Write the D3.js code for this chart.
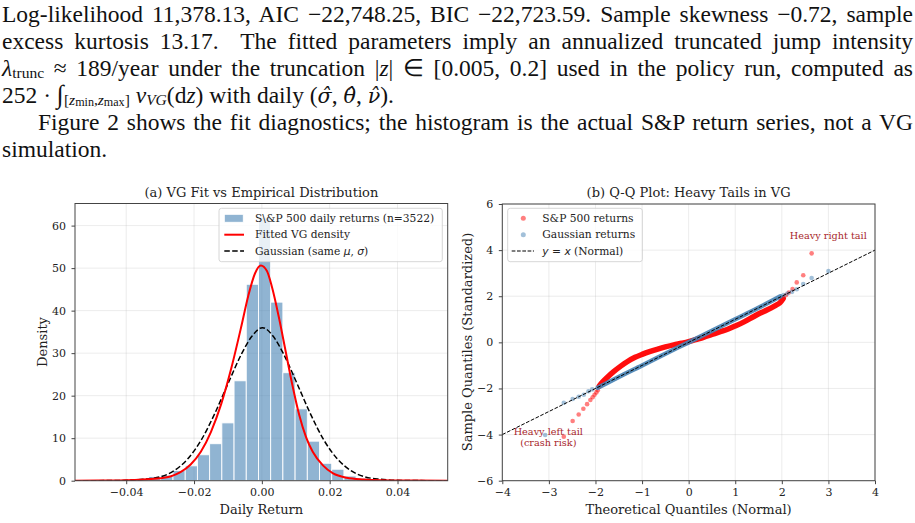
<!DOCTYPE html>
<html>
<head>
<meta charset="utf-8">
<script src="https://cdn.jsdelivr.net/npm/d3@7"></script>
<style>
  html, body { margin: 0; padding: 0; background: #fff; }
  body { width: 915px; height: 523px; position: relative; overflow: hidden; }
  .para {
    position: absolute; left: 2px; top: 1px; width: 911px;
    font-family: "Liberation Serif", serif; font-size: 23.5px; line-height: 27px; color: #111;
  }
  .para .ln { white-space: nowrap; height: 27px; }
  .para sub { font-size: 0.66em; line-height: 0; vertical-align: -0.15em; }
  .para sub sub { font-size: 0.78em; vertical-align: -0.05em; }
  .para .int { font-size: 1.1em; line-height: 0; }
  .para .hm { font-family: "DejaVu Serif", serif; font-style: italic; font-size: 0.88em; }
  #fig { position: absolute; left: 0; top: 0; }
  svg text { font-family: "DejaVu Serif", serif; fill: #222; }
  .math { font-family: "DejaVu Sans", sans-serif; font-style: italic; }
</style>
</head>
<body>
<div class="para" id="para"></div>
<div id="fig"></div>
<script>
// =====================
// Data
// =====================
const histEdges = [-0.0442, -0.0406, -0.0370, -0.0334, -0.0298, -0.0262, -0.0226, -0.0190,
  -0.0154, -0.0118, -0.0082, -0.0046, -0.0010, 0.0026, 0.0062, 0.0098, 0.0134, 0.0170,
  0.0206, 0.0242, 0.0278, 0.0314, 0.0350, 0.0386];
const histDensity = [0.15, 0.3, 0.55, 1.0, 1.3, 2.4, 3.5, 6.1, 8.7, 13.6, 23.5, 46.2, 62.0,
  42.0, 25.4, 16.9, 9.3, 4.1, 2.7, 1.1, 0.6, 0.3, 0.15];

// fitted VG density, traced
const vgX = [-0.0551, -0.045, -0.040, -0.035, -0.030, -0.027, -0.024, -0.021, -0.018, -0.015,
  -0.012, -0.009, -0.006, -0.004, -0.002, -0.0003, 0.0015, 0.003, 0.005, 0.007, 0.009, 0.011,
  0.013, 0.015, 0.018, 0.021, 0.025, 0.030, 0.035, 0.045, 0.0548];
const vgY = [0.01, 0.05, 0.12, 0.3, 0.6, 1.0, 2.0, 3.8, 6.8, 11.5, 18.0, 26.5, 36.5, 43.5, 48.8,
  50.6, 49.3, 45.5, 38.5, 30.5, 22.5, 15.5, 10.3, 6.8, 3.6, 1.7, 0.7, 0.3, 0.12, 0.04, 0.01];

// Gaussian with the same mean and sd, traced
const gaussX = [-0.0551, -0.045, -0.040, -0.035, -0.030, -0.026, -0.022, -0.018, -0.014, -0.010,
  -0.006, -0.003, 0.0002, 0.0034, 0.0064, 0.0104, 0.0144, 0.0184, 0.0224, 0.0264, 0.0304, 0.035,
  0.040, 0.045, 0.0548];
const gaussY = [0.0, 0.03, 0.1, 0.35, 0.9, 2.3, 5.0, 9.4, 15.6, 22.8, 29.8, 33.9, 36.0, 33.9, 29.8,
  22.8, 15.6, 9.4, 5.0, 2.3, 0.9, 0.35, 0.1, 0.03, 0.0];

// Q-Q: dense part of each cloud (traced) and the separate tail points
const spxBand = [[-1.92, -1.90], [-1.85, -1.72], [-1.75, -1.52], [-1.61, -1.27], [-1.45, -1.02],
  [-1.32, -0.84], [-1.15, -0.65], [-1.0, -0.52], [-0.84, -0.40], [-0.68, -0.30], [-0.5, -0.20],
  [-0.32, -0.11], [-0.15, -0.04], [0, 0.03], [0.15, 0.12], [0.32, 0.22], [0.5, 0.34],
  [0.68, 0.46], [0.85, 0.58], [1.0, 0.71], [1.2, 0.90], [1.39, 1.11], [1.55, 1.28],
  [1.68, 1.40], [1.85, 1.58], [1.96, 1.72], [2.03, 1.90]];
const spxTail = [[-2.68, -4.09], [-2.49, -3.41], [-2.36, -3.13], [-2.26, -2.88], [-2.18, -2.68],
  [-2.11, -2.50], [-2.06, -2.38], [-2.02, -2.27], [-1.98, -2.17], [-1.95, -2.08],
  [2.09, 2.05], [2.15, 2.16], [2.23, 2.31], [2.32, 2.60], [2.46, 2.91], [2.64, 3.86]];
const gaussBand = [[-1.95, -1.97], [-1.5, -1.5], [-1.0, -1.0], [-0.5, -0.49], [0, 0],
  [0.5, 0.5], [1.0, 1.0], [1.5, 1.5], [1.97, 2.0]];
const gaussTail = [[-3.08, -4.02], [-2.68, -2.62], [-2.49, -2.46], [-2.36, -2.36], [-2.25, -2.27],
  [-2.15, -2.12], [-2.07, -2.04], [2.04, 2.05], [2.12, 2.12], [2.22, 2.19], [2.32, 2.30],
  [2.46, 2.53], [2.64, 2.79], [3.00, 3.09]];
const refLineX = [-4, 4];

const histTicks = [-0.04, -0.02, 0.00, 0.02, 0.04];
const densityTicks = [0, 10, 20, 30, 40, 50, 60];
const qqXTicks = [-4, -3, -2, -1, 0, 1, 2, 3, 4];
const qqYTicks = [-6, -4, -2, 0, 2, 4, 6];

// =====================
// Paragraph above the figure
// =====================
const paraLines = [
  { html: "Log-likelihood 11,378.13, AIC \u221222,748.25, BIC \u221222,723.59. Sample skewness \u22120.72, sample", justify: true },
  { html: "excess kurtosis 13.17.&nbsp; The fitted parameters imply an annualized truncated jump intensity", justify: true },
  { html: "<i>\u03bb</i><sub>trunc</sub> \u2248 189/year under the truncation |<i>z</i>| \u2208 [0.005, 0.2] used in the policy run, computed as", justify: true },
  { html: "252 \u00b7 <span class='int'>\u222b</span><sub>[<i>z</i><sub>min</sub>,<i>z</i><sub>max</sub>]</sub> <i>\u03bd</i><sub><i>VG</i></sub>(d<i>z</i>) with daily (<span class='hm'>\u03c3\u0302</span>, <span class='hm'>\u03b8\u0302</span>, <span class='hm'>\u03bd\u0302</span>).", justify: false },
  { html: "Figure 2 shows the fit diagnostics; the histogram is the actual S&amp;P return series, not a VG", justify: true, indent: 36 },
  { html: "simulation.", justify: false }
];

const para = d3.select("#para");
paraLines.forEach(l => {
  const div = para.append("div").attr("class", "ln").style("padding-left", (l.indent || 0) + "px");
  const span = div.append("span").html(l.html);
  if (l.justify) {
    const target = 911 - (l.indent || 0);
    const w = span.node().getBoundingClientRect().width;
    const spaces = (span.node().textContent.match(/[ \u00a0]/g) || []).length;
    span.style("word-spacing", ((target - w) / spaces) + "px");
  }
});

// =====================
// Figure
// =====================
const svg = d3.select("#fig").append("svg").attr("width", 915).attr("height", 523);
const fmt2 = d3.format(".2f");
const fmt0 = d3.format("d");

function panel(x, y, o) {
  const g = svg.append("g");
  // grid
  g.append("g").selectAll("line").data(o.xTicks).join("line")
    .attr("x1", d => x(d)).attr("x2", d => x(d))
    .attr("y1", y.range()[0]).attr("y2", y.range()[1])
    .attr("stroke", "#b0b0b0").attr("stroke-opacity", 0.3).attr("stroke-width", 0.8);
  g.append("g").selectAll("line").data(o.yTicks).join("line")
    .attr("y1", d => y(d)).attr("y2", d => y(d))
    .attr("x1", x.range()[0]).attr("x2", x.range()[1])
    .attr("stroke", "#b0b0b0").attr("stroke-opacity", 0.3).attr("stroke-width", 0.8);
  return g;
}

function frame(x, y, o) {
  const [x0, x1] = x.range(), [y0, y1] = y.range();
  svg.append("rect").attr("x", x0).attr("y", y1).attr("width", x1 - x0).attr("height", y0 - y1)
    .attr("fill", "none").attr("stroke", "#444").attr("stroke-width", 1);
  const ax = svg.append("g").attr("transform", `translate(0,${y0})`)
    .call(d3.axisBottom(x).tickValues(o.xTicks).tickFormat(o.xFmt).tickSize(3.5).tickPadding(4.5).tickSizeOuter(0));
  const ay = svg.append("g").attr("transform", `translate(${x0},0)`)
    .call(d3.axisLeft(y).tickValues(o.yTicks).tickFormat(o.yFmt).tickSize(3.5).tickPadding(5.5).tickSizeOuter(0));
  [ax, ay].forEach(a => {
    a.select(".domain").remove();
    a.selectAll(".tick line").attr("stroke", "#444");
    a.selectAll(".tick text").attr("font-family", "DejaVu Serif").attr("font-size", 11).attr("fill", "#222");
  });
}

// ----- (a) histogram with fitted densities -----
const xA = d3.scaleLinear().domain([-0.0551, 0.0548]).range([75, 447.7]);
const yA = d3.scaleLinear().domain([0, 65.2]).range([480.7, 203.5]);
const gA = panel(xA, yA, { xTicks: histTicks, yTicks: densityTicks });

svg.append("clipPath").attr("id", "clipA").append("rect")
  .attr("x", 75).attr("y", 203.5).attr("width", 372.7).attr("height", 277.2);

gA.append("g").selectAll("rect").data(histDensity).join("rect")
  .attr("x", (d, i) => xA(histEdges[i]))
  .attr("width", (d, i) => xA(histEdges[i + 1]) - xA(histEdges[i]))
  .attr("y", d => yA(d))
  .attr("height", d => yA(0) - yA(d))
  .attr("fill", "steelblue").attr("fill-opacity", 0.6)
  .attr("stroke", "#fff").attr("stroke-width", 0.9);

const lineA = d3.line().x(d => xA(d[0])).y(d => yA(d[1])).curve(d3.curveMonotoneX);
gA.append("path").datum(d3.zip(gaussX, gaussY)).attr("d", lineA)
  .attr("clip-path", "url(#clipA)")
  .attr("fill", "none").attr("stroke", "#000").attr("stroke-width", 1.5).attr("stroke-dasharray", "5.5,2.4");
gA.append("path").datum(d3.zip(vgX, vgY)).attr("d", lineA)
  .attr("clip-path", "url(#clipA)")
  .attr("fill", "none").attr("stroke", "red").attr("stroke-width", 2);

frame(xA, yA, { xTicks: histTicks, yTicks: densityTicks, xFmt: fmt2, yFmt: fmt0 });

svg.append("text").attr("x", 261.4).attr("y", 196.5).attr("text-anchor", "middle")
  .attr("font-size", 13).text("(a) VG Fit vs Empirical Distribution");
svg.append("text").attr("x", 261.4).attr("y", 514).attr("text-anchor", "middle")
  .attr("font-size", 13).text("Daily Return");
svg.append("text").attr("transform", "translate(47,342) rotate(-90)").attr("text-anchor", "middle")
  .attr("font-size", 13).text("Density");

// legend (a)
const legA = svg.append("g");
legA.append("rect").attr("x", 219).attr("y", 208.3).attr("width", 223.3).attr("height", 53.4).attr("rx", 2.5)
  .attr("fill", "#fff").attr("fill-opacity", 0.8).attr("stroke", "#ccc").attr("stroke-width", 0.8);
legA.append("rect").attr("x", 224.3).attr("y", 214.3).attr("width", 19).attr("height", 8)
  .attr("fill", "steelblue").attr("fill-opacity", 0.6).attr("stroke", "#fff").attr("stroke-width", 0.9);
legA.append("line").attr("x1", 224.3).attr("x2", 244).attr("y1", 234.7).attr("y2", 234.7)
  .attr("stroke", "red").attr("stroke-width", 2);
legA.append("line").attr("x1", 224.3).attr("x2", 244).attr("y1", 251).attr("y2", 251)
  .attr("stroke", "#000").attr("stroke-width", 1.5).attr("stroke-dasharray", "5.5,2.4");
legA.append("text").attr("x", 255).attr("y", 222).attr("font-size", 10.7).text("S\\&P 500 daily returns (n=3522)");
legA.append("text").attr("x", 255).attr("y", 238.4).attr("font-size", 10.7).text("Fitted VG density");
const tG = legA.append("text").attr("x", 255).attr("y", 254.7).attr("font-size", 10.7);
tG.append("tspan").text("Gaussian (same ");
tG.append("tspan").attr("class", "math").text("\u03bc");
tG.append("tspan").text(", ");
tG.append("tspan").attr("class", "math").text("\u03c3");
tG.append("tspan").text(")");

// ----- (b) Q-Q plot -----
const xB = d3.scaleLinear().domain([-4, 4]).range([502.3, 875]);
const yB = d3.scaleLinear().domain([-6, 6]).range([480.7, 204]);
const gB = panel(xB, yB, { xTicks: qqXTicks, yTicks: qqYTicks });
const lineB = d3.line().x(d => xB(d[0])).y(d => yB(d[1])).curve(d3.curveCatmullRom);

// S&P 500 returns
gB.append("g").selectAll("circle").data(spxTail).join("circle")
  .attr("cx", d => xB(d[0])).attr("cy", d => yB(d[1])).attr("r", 2.3)
  .attr("fill", "red").attr("fill-opacity", 0.5);
gB.append("path").datum(spxBand).attr("d", lineB)
  .attr("fill", "none").attr("stroke", "red").attr("stroke-opacity", 0.95)
  .attr("stroke-width", 5.5).attr("stroke-linecap", "round");
// Gaussian returns
gB.append("g").selectAll("circle").data(gaussTail).join("circle")
  .attr("cx", d => xB(d[0])).attr("cy", d => yB(d[1])).attr("r", 2.3)
  .attr("fill", "steelblue").attr("fill-opacity", 0.5);
gB.append("path").datum(gaussBand).attr("d", lineB)
  .attr("fill", "none").attr("stroke", "steelblue").attr("stroke-opacity", 0.9)
  .attr("stroke-width", 4.5).attr("stroke-linecap", "round");
// y = x
gB.append("path").datum(refLineX.map(v => [v, v])).attr("d", d3.line().x(d => xB(d[0])).y(d => yB(d[1])))
  .attr("fill", "none").attr("stroke", "#000").attr("stroke-width", 1).attr("stroke-dasharray", "3.7,1.6");

frame(xB, yB, { xTicks: qqXTicks, yTicks: qqYTicks, xFmt: fmt0, yFmt: fmt0 });

svg.append("text").attr("x", 688.6).attr("y", 196.5).attr("text-anchor", "middle")
  .attr("font-size", 13).text("(b) Q-Q Plot: Heavy Tails in VG");
svg.append("text").attr("x", 688.6).attr("y", 514).attr("text-anchor", "middle")
  .attr("font-size", 13).text("Theoretical Quantiles (Normal)");
svg.append("text").attr("transform", "translate(471.5,342) rotate(-90)").attr("text-anchor", "middle")
  .attr("font-size", 13).text("Sample Quantiles (Standardized)");

// annotations
const annColor = "#a8262a";
svg.append("text").attr("x", 828.3).attr("y", 238.5).attr("text-anchor", "middle")
  .attr("font-size", 9.7).style("fill", annColor).text("Heavy right tail");
svg.append("text").attr("x", 548.3).attr("y", 434.5).attr("text-anchor", "middle")
  .attr("font-size", 9.7).style("fill", annColor).text("Heavy left tail");
svg.append("text").attr("x", 548.3).attr("y", 445.5).attr("text-anchor", "middle")
  .attr("font-size", 9.7).style("fill", annColor).text("(crash risk)");

// legend (b)
const legB = svg.append("g");
legB.append("rect").attr("x", 507.7).attr("y", 208.3).attr("width", 134.6).attr("height", 53.4).attr("rx", 2.5)
  .attr("fill", "#fff").attr("fill-opacity", 0.8).attr("stroke", "#ccc").attr("stroke-width", 0.8);
legB.append("circle").attr("cx", 523.3).attr("cy", 218.3).attr("r", 2.5).attr("fill", "red").attr("fill-opacity", 0.5);
legB.append("circle").attr("cx", 523.3).attr("cy", 234.7).attr("r", 2.5).attr("fill", "steelblue").attr("fill-opacity", 0.5);
legB.append("line").attr("x1", 511.7).attr("x2", 534).attr("y1", 251).attr("y2", 251)
  .attr("stroke", "#000").attr("stroke-width", 1).attr("stroke-dasharray", "3.7,1.6");
legB.append("text").attr("x", 542.3).attr("y", 222).attr("font-size", 10.7).text("S&P 500 returns");
legB.append("text").attr("x", 542.3).attr("y", 238.4).attr("font-size", 10.7).text("Gaussian returns");
const tY = legB.append("text").attr("x", 542.3).attr("y", 254.7).attr("font-size", 10.7);
tY.append("tspan").attr("class", "math").text("y");
tY.append("tspan").attr("font-family", "DejaVu Sans").text(" = ");
tY.append("tspan").attr("class", "math").text("x");
tY.append("tspan").text(" (Normal)");
</script>
</body>
</html>
